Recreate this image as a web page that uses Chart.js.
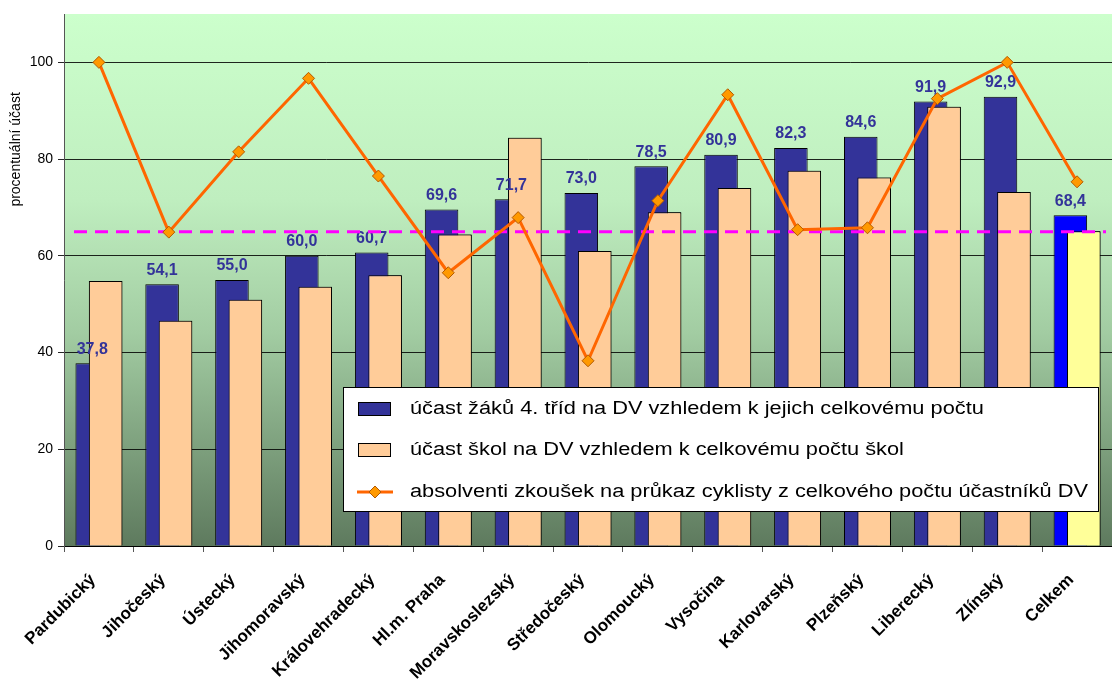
<!DOCTYPE html>
<html>
<head>
<meta charset="utf-8">
<script src="https://cdn.jsdelivr.net/npm/chart.js@4.4.1/dist/chart.umd.min.js"></script>
<style>
    html, body { margin: 0; padding: 0; background: #ffffff; overflow: hidden; }
    #wrap { width: 1112px; height: 684px; }
</style>
</head>
<body>
<div id="wrap"><canvas id="dvChart"></canvas></div>
<script>
var kraje = ['Pardubický', 'Jihočeský', 'Ústecký', 'Jihomoravský', 'Královehradecký', 'Hl.m. Praha',
    'Moravskoslezský', 'Středočeský', 'Olomoucký', 'Vysočina', 'Karlovarský', 'Plzeňský',
    'Liberecký', 'Zlínský', 'Celkem'];
var ucastZaku = [37.8, 54.1, 55.0, 60.0, 60.7, 69.6, 71.7, 73.0, 78.5, 80.9, 82.3, 84.6, 91.9, 92.9, 68.4];
var ucastSkol = [54.8, 46.6, 50.9, 53.6, 56.0, 64.4, 84.4, 61.0, 69.0, 74.0, 77.6, 76.2, 90.8, 73.2, 65.1];
var absolventi = [100, 64.9, 81.5, 96.7, 76.5, 56.5, 67.9, 38.3, 71.4, 93.3, 65.4, 65.8, 92.5, 100, 75.3];
var hranice = 65;
var yTicks = [0, 20, 40, 60, 80, 100];
var yMax = 110;

var nazvyRad = [
    'účast žáků 4. tříd na DV vzhledem k jejich celkovému počtu',
    'účast škol na DV vzhledem k celkovému počtu škol',
    'absolventi zkoušek na průkaz cyklisty z celkového počtu účastníků DV'
];

var pismo = '"Liberation Sans", Arial, sans-serif';

// posledni sloupec (Celkem) ma jine barvy
var barvyZaku = kraje.map(function (k) { return k === 'Celkem' ? '#0000ff' : '#333399'; });
var barvySkol = kraje.map(function (k) { return k === 'Celkem' ? '#ffff99' : '#ffcc99'; });

var pozadi = {
    id: 'pozadi',
    beforeDraw: function (chart) {
        var a = chart.chartArea;
        var ctx = chart.ctx;
        var g = ctx.createLinearGradient(0, a.top, 0, a.bottom);
        g.addColorStop(0, '#ccffcc');
        g.addColorStop(0.35, '#bfeebf');
        g.addColorStop(0.6, '#a2cca2');
        g.addColorStop(1, '#5e7a5e');
        ctx.save();
        ctx.fillStyle = g;
        ctx.fillRect(a.left, a.top, a.right - a.left, a.bottom - a.top);
        ctx.restore();
    }
};

var popisky = {
    id: 'popisky',
    afterDatasetDraw: function (chart, args) {
        if (args.index !== 0) return;
        var ctx = chart.ctx;
        // skoly lezi v Excelu pres zaky, tak je prekreslime
        chart.getDatasetMeta(1).controller.draw();

        ctx.save();
        ctx.font = 'bold 16px ' + pismo;
        ctx.fillStyle = '#333399';
        ctx.textAlign = 'center';
        ctx.textBaseline = 'bottom';
        chart.getDatasetMeta(0).data.forEach(function (bar, i) {
            ctx.fillText(ucastZaku[i].toFixed(1).replace('.', ','), bar.x, bar.y - 6);
        });

        // prumerna hranice
        var y = chart.scales.y.getPixelForValue(hranice);
        ctx.strokeStyle = '#ff00ff';
        ctx.lineWidth = 3;
        ctx.setLineDash([13, 8]);
        ctx.beginPath();
        ctx.moveTo(chart.chartArea.left + 10, y);
        ctx.lineTo(chart.chartArea.right - 6, y);
        ctx.stroke();
        ctx.restore();
    }
};

var legenda = {
    id: 'legenda',
    afterDatasetsDraw: function (chart) {
        var ctx = chart.ctx;
        var a = chart.chartArea;
        var x = a.left + 279, y = 387, w = 755, h = 124;
        ctx.save();
        ctx.fillStyle = '#ffffff';
        ctx.fillRect(x, y, w, h);
        ctx.strokeStyle = '#000000';
        ctx.lineWidth = 1;
        ctx.strokeRect(x + 0.5, y + 0.5, w, h);

        ctx.font = '18px ' + pismo;
        ctx.textBaseline = 'middle';
        ctx.textAlign = 'left';
        var radky = [y + 22, y + 63, y + 105];
        chart.data.datasets.forEach(function (ds, i) {
            var ry = radky[i];
            if (ds.type === 'line') {
                ctx.strokeStyle = ds.borderColor;
                ctx.lineWidth = 3;
                ctx.beginPath();
                ctx.moveTo(x + 14, ry);
                ctx.lineTo(x + 50, ry);
                ctx.stroke();
                ctx.fillStyle = ds.pointBackgroundColor;
                ctx.strokeStyle = ds.pointBorderColor;
                ctx.lineWidth = 1;
                ctx.beginPath();
                ctx.moveTo(x + 32, ry - 6);
                ctx.lineTo(x + 38, ry);
                ctx.lineTo(x + 32, ry + 6);
                ctx.lineTo(x + 26, ry);
                ctx.closePath();
                ctx.fill();
                ctx.stroke();
            } else {
                ctx.fillStyle = ds.backgroundColor[0];
                ctx.fillRect(x + 15, ry - 7, 32, 13);
                ctx.strokeStyle = '#000000';
                ctx.lineWidth = 1;
                ctx.strokeRect(x + 15.5, ry - 6.5, 32, 13);
            }
            // text v originale je vodorovne roztazeny
            ctx.save();
            ctx.translate(x + 67, ry);
            ctx.scale(1.21, 1);
            ctx.fillStyle = '#000000';
            ctx.fillText(ds.label, 0, 0);
            ctx.restore();
        });

        // popis osy y
        ctx.font = '14px ' + pismo;
        ctx.textAlign = 'center';
        ctx.fillStyle = '#000000';
        ctx.translate(16, chart.scales.y.getPixelForValue(82));
        ctx.rotate(-Math.PI / 2);
        ctx.fillText('procentuální účast', 0, 0);
        ctx.restore();
    }
};

var ctx = document.getElementById('dvChart').getContext('2d');
var dvChart = new Chart(ctx, {
    type: 'bar',
    data: {
        labels: kraje,
        datasets: [{
            label: nazvyRad[0],
            data: ucastZaku,
            backgroundColor: barvyZaku,
            borderColor: '#000000',
            borderWidth: 1,
            order: 0
        }, {
            label: nazvyRad[1],
            data: ucastSkol,
            backgroundColor: barvySkol,
            borderColor: '#000000',
            borderWidth: 1,
            order: 0
        }, {
            type: 'line',
            label: nazvyRad[2],
            data: absolventi,
            borderColor: '#ff6600',
            borderWidth: 3,
            pointStyle: 'rectRot',
            pointRadius: 6,
            pointBackgroundColor: '#ff9900',
            pointBorderColor: '#b35900',
            pointBorderWidth: 1,
            tension: 0,
            order: -1
        }]
    },
    options: {
        responsive: true,
        maintainAspectRatio: false,
        animation: false,
        devicePixelRatio: 1,
        categoryPercentage: 0.384,
        barPercentage: 2.5,
        layout: {
            autoPadding: false,
            padding: { top: 14, right: 0, left: 0, bottom: 0 }
        },
        plugins: {
            legend: { display: false },
            tooltip: { enabled: false }
        },
        scales: {
            x: {
                offset: true,
                grid: {
                    display: true,
                    offset: true,
                    drawOnChartArea: false,
                    drawTicks: true,
                    tickLength: 6,
                    color: '#555555'
                },
                border: { display: true, color: '#000000' },
                ticks: {
                    autoSkip: false,
                    maxRotation: 45,
                    minRotation: 45,
                    padding: 18,
                    labelOffset: -6,
                    color: '#000000',
                    font: { family: pismo, size: 17, weight: 'bold' }
                },
                afterFit: function (axis) {
                    axis.height = 138;
                    axis.paddingLeft = 0;
                    axis.paddingRight = 0;
                }
            },
            y: {
                min: 0,
                max: yMax,
                afterBuildTicks: function (axis) {
                    axis.ticks = yTicks.map(function (v) { return { value: v }; });
                },
                grid: {
                    color: 'rgba(0, 0, 0, 0.85)',
                    lineWidth: 1,
                    tickLength: 6
                },
                border: { display: true, color: '#555555' },
                ticks: {
                    padding: 5,
                    color: '#000000',
                    font: { family: pismo, size: 14 }
                },
                afterFit: function (axis) { axis.width = 64; }
            }
        }
    },
    plugins: [pozadi, popisky, legenda]
});
</script>
</body>
</html>
